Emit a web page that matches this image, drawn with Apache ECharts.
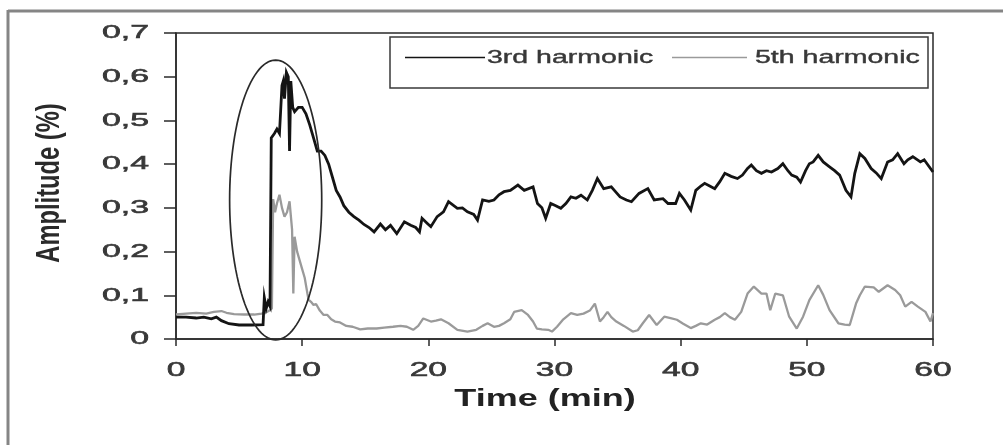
<!DOCTYPE html>
<html>
<head>
<meta charset="utf-8">
<script src="https://cdn.jsdelivr.net/npm/echarts@6/dist/echarts.min.js"></script>
<style>
  html, body { margin: 0; padding: 0; background: #ffffff; }
  #chart { width: 1003px; height: 445px; }
</style>
</head>
<body>
<div id="chart"></div>
<script>
// Harmonic amplitudes over time (minutes, % of fundamental)
const thirdTime = [0,0.8,1.6,2.2,2.8,3.2,3.6,4.2,5.0,6.0,6.9,7.0,7.15,7.3,7.45,7.55,7.8,8.0,8.2,8.4,8.5,8.6,8.75,8.9,9.0,9.1,9.25,9.4,9.7,10.0,10.3,10.6,10.9,11.2,11.5,11.8,12.1,12.4,12.7,13.0,13.3,13.7,14.1,14.5,14.9,15.3,15.7,16.2,16.6,17.0,17.5,18.1,18.6,19.0,19.3,19.5,19.9,20.2,20.7,21.2,21.6,22.3,22.7,23.1,23.6,23.9,24.3,24.8,25.2,25.6,26.0,26.5,27.1,27.6,28.3,28.65,29.0,29.3,29.7,30.1,30.5,30.9,31.3,31.7,32.1,32.6,33.0,33.4,33.9,34.5,34.9,35.2,35.7,36.1,36.7,37.4,37.9,38.6,39.0,39.6,39.9,40.3,40.8,41.2,41.6,41.9,42.3,42.7,43.1,43.5,44.0,44.5,44.9,45.3,45.6,46.0,46.4,46.8,47.2,47.7,48.1,48.5,48.8,49.2,49.5,49.9,50.2,50.5,50.9,51.3,51.8,52.2,52.6,53.1,53.5,53.8,54.2,54.6,55.1,55.5,55.9,56.4,56.8,57.2,57.7,58.0,58.4,59.0,59.3,59.6,60];
const thirdAmp = [0.050,0.050,0.048,0.050,0.046,0.050,0.042,0.035,0.032,0.032,0.033,0.095,0.070,0.085,0.075,0.460,0.470,0.480,0.470,0.580,0.590,0.550,0.610,0.600,0.430,0.590,0.530,0.520,0.530,0.530,0.515,0.490,0.460,0.430,0.430,0.420,0.400,0.370,0.340,0.325,0.305,0.290,0.280,0.272,0.262,0.255,0.245,0.263,0.250,0.260,0.241,0.268,0.260,0.255,0.245,0.276,0.265,0.257,0.280,0.291,0.314,0.299,0.300,0.291,0.285,0.272,0.318,0.315,0.318,0.330,0.337,0.340,0.352,0.340,0.348,0.310,0.300,0.276,0.310,0.305,0.299,0.310,0.325,0.322,0.329,0.318,0.340,0.367,0.344,0.348,0.335,0.325,0.318,0.314,0.333,0.344,0.318,0.321,0.310,0.310,0.333,0.318,0.295,0.340,0.350,0.356,0.350,0.344,0.360,0.379,0.372,0.367,0.375,0.390,0.398,0.385,0.379,0.385,0.382,0.390,0.401,0.385,0.375,0.370,0.359,0.385,0.401,0.405,0.420,0.405,0.394,0.385,0.375,0.340,0.325,0.379,0.424,0.413,0.390,0.380,0.367,0.405,0.410,0.424,0.401,0.410,0.417,0.405,0.410,0.398,0.382];

const fifthTime = [0,0.8,1.6,2.4,3.0,3.6,4.0,4.6,5.4,6.2,6.8,7.2,7.4,7.6,7.7,7.85,8.0,8.2,8.4,8.6,8.8,9.0,9.2,9.3,9.4,9.6,9.8,10.0,10.2,10.5,10.7,10.9,11.1,11.4,11.7,12.0,12.3,12.6,13.0,13.5,14.0,14.6,15.2,15.9,16.5,17.2,17.8,18.3,18.8,19.2,19.6,20.2,20.6,21.0,21.6,22.3,23.1,23.8,24.3,24.7,25.2,25.6,26.0,26.5,26.8,27.4,27.9,28.3,28.6,29.0,29.5,29.8,30.2,30.7,31.3,31.8,32.3,32.8,33.2,33.6,33.9,34.2,34.5,34.9,35.5,36.2,36.6,37.0,37.5,38.1,38.7,39.2,39.7,40.2,40.8,41.2,41.6,42.1,42.7,43.1,43.5,43.9,44.3,44.8,45.3,45.8,46.4,46.8,47.1,47.5,48.1,48.6,49.2,49.7,50.2,50.9,51.3,51.8,52.5,53.0,53.4,53.9,54.2,54.6,55.3,55.7,56.4,57.0,57.4,57.8,58.3,58.8,59.4,59.8,60];
const fifthAmp = [0.056,0.058,0.060,0.058,0.062,0.064,0.060,0.057,0.056,0.056,0.058,0.062,0.065,0.070,0.320,0.290,0.310,0.330,0.300,0.280,0.290,0.315,0.250,0.104,0.234,0.200,0.180,0.160,0.140,0.090,0.085,0.078,0.080,0.065,0.055,0.055,0.045,0.040,0.038,0.030,0.028,0.022,0.024,0.024,0.026,0.028,0.030,0.028,0.021,0.030,0.047,0.040,0.042,0.045,0.036,0.021,0.017,0.021,0.030,0.036,0.028,0.030,0.036,0.045,0.062,0.066,0.055,0.040,0.024,0.022,0.021,0.017,0.028,0.045,0.059,0.055,0.058,0.065,0.081,0.040,0.050,0.062,0.050,0.040,0.030,0.017,0.020,0.036,0.055,0.032,0.051,0.048,0.044,0.035,0.025,0.030,0.036,0.033,0.044,0.050,0.059,0.050,0.044,0.062,0.104,0.120,0.104,0.104,0.066,0.104,0.100,0.051,0.024,0.051,0.089,0.123,0.101,0.066,0.036,0.033,0.032,0.081,0.100,0.120,0.118,0.108,0.123,0.112,0.100,0.074,0.085,0.074,0.062,0.040,0.059];

// Axis ticks and their printed labels (decimal comma)
const xTickValues = [0, 10, 20, 30, 40, 50, 60];
const xTickLabels = ['0', '10', '20', '30', '40', '50', '60'];
const yTickValues = [0, 0.1, 0.2, 0.3, 0.4, 0.5, 0.6, 0.7];
const yTickLabels = ['0', '0,1', '0,2', '0,3', '0,4', '0,5', '0,6', '0,7'];

// Highlighted transient region: centre time, centre amplitude, half-width, half-height
const highlightRegion = [[7.9, 0.318, 3.65, 0.32]];

const seriesNames = ['3rd harmonic', '5th harmonic'];
const axisTitles = { x: 'Time (min)', y: 'Amplitude (%)' };

const zip = (xs, ys) => xs.map((x, i) => [x, ys[i]]);

const FONT = '"Liberation Sans", Arial, sans-serif';
const INK = '#2a2a2a';
const LABEL = '#383838';
const BLACK_LINE = '#141414';
const GREY_LINE = '#9a9a9a';

const chart = echarts.init(document.getElementById('chart'), null, { renderer: 'canvas' });

// Wide-set text element (the figure's lettering is horizontally expanded)
function textEl(text, x, y, opts) {
  return Object.assign({
    type: 'text',
    x: x, y: y,
    silent: true,
    style: {
      text: text,
      fill: opts.color || LABEL,
      stroke: opts.color || LABEL,
      lineWidth: opts.thicken || 0,
      font: (opts.weight || 'normal') + ' ' + opts.size + 'px ' + FONT,
      align: opts.align || 'center',
      verticalAlign: 'middle',
      textAlign: opts.align || 'center',
      textVerticalAlign: 'middle'
    }
  }, opts.transform || {});
}

const option = {
  backgroundColor: '#ffffff',
  animation: false,
  grid: {
    left: 176, right: 70, top: 33, bottom: 106,
    show: true, borderColor: INK, borderWidth: 1.5, backgroundColor: 'transparent'
  },
  xAxis: {
    type: 'value', min: 0, max: 60, interval: 10,
    axisLine: { show: true, lineStyle: { color: INK, width: 1.5 } },
    axisTick: { show: true, inside: false, length: 7, lineStyle: { color: INK, width: 1.5 } },
    axisLabel: { show: false },
    splitLine: { show: false }
  },
  yAxis: {
    type: 'value', min: 0, max: 0.7, interval: 0.1,
    axisLine: { show: true, lineStyle: { color: INK, width: 1.5 } },
    axisTick: { show: true, inside: false, length: 12, lineStyle: { color: INK, width: 1.5 } },
    axisLabel: { show: false },
    splitLine: { show: false }
  },
  series: [
    {
      name: seriesNames[0], type: 'line', data: zip(thirdTime, thirdAmp),
      showSymbol: false, symbol: 'none', z: 3,
      lineStyle: { color: BLACK_LINE, width: 2.8, join: 'miter' }
    },
    {
      name: seriesNames[1], type: 'line', data: zip(fifthTime, fifthAmp),
      showSymbol: false, symbol: 'none', z: 2,
      lineStyle: { color: GREY_LINE, width: 2.3 }
    },
    {
      // outline around the transient
      type: 'custom', data: highlightRegion, encode: { x: 0, y: 1 }, z: 4, silent: true,
      renderItem: function (params, api) {
        const c = api.coord([api.value(0), api.value(1)]);
        const s = api.size([api.value(2), api.value(3)]);
        const pts = [];
        for (let k = 0; k < 120; k++) {
          const a = (k / 120) * Math.PI * 2;
          pts.push([c[0] + s[0] * Math.cos(a), c[1] + s[1] * Math.sin(a)]);
        }
        return { type: 'polygon', shape: { points: pts }, style: { fill: 'none', stroke: INK, lineWidth: 1.7 } };
      }
    },
    {
      // x tick labels
      type: 'custom', data: xTickValues.map(v => [v, 0]), encode: { x: 0, y: 1 }, silent: true,
      renderItem: function (params, api) {
        const p = api.coord([api.value(0), api.value(1)]);
        return textEl(xTickLabels[params.dataIndex], p[0], p[1] + 31,
          { size: 21, align: 'center', thicken: 0.6, transform: { scaleX: 1.6 } });
      }
    },
    {
      // y tick labels
      type: 'custom', data: yTickValues.map(v => [0, v]), encode: { x: 0, y: 1 }, silent: true,
      renderItem: function (params, api) {
        const p = api.coord([api.value(0), api.value(1)]);
        return textEl(yTickLabels[params.dataIndex], p[0] - 27, p[1],
          { size: 19, align: 'right', thicken: 0.6, transform: { scaleX: 1.78 } });
      }
    }
  ],
  graphic: [
    // outer frame
    { type: 'line', silent: true, shape: { x1: 8, y1: 11, x2: 1003, y2: 11 }, style: { stroke: '#858585', lineWidth: 3 } },
    { type: 'line', silent: true, shape: { x1: 8, y1: 10, x2: 8, y2: 445 }, style: { stroke: '#858585', lineWidth: 3 } },
    // legend
    { type: 'rect', silent: true, z: 10, shape: { x: 390, y: 37, width: 538, height: 51 },
      style: { fill: '#ffffff', stroke: '#3a3a3a', lineWidth: 1.5 } },
    { type: 'line', silent: true, z: 11, shape: { x1: 405, y1: 57.5, x2: 485, y2: 57.5 }, style: { stroke: BLACK_LINE, lineWidth: 1.5 } },
    Object.assign(textEl(seriesNames[0], 487, 58, { size: 19, align: 'left', thicken: 0.4, transform: { scaleX: 1.5 } }), { z: 11 }),
    { type: 'line', silent: true, z: 11, shape: { x1: 672, y1: 57.5, x2: 747, y2: 57.5 }, style: { stroke: GREY_LINE, lineWidth: 1.5 } },
    Object.assign(textEl(seriesNames[1], 755, 58, { size: 19, align: 'left', thicken: 0.4, transform: { scaleX: 1.5 } }), { z: 11 }),
    // axis titles
    textEl(axisTitles.x, 545, 399, { size: 24, weight: 'bold', color: '#222', transform: { scaleX: 1.5 } }),
    textEl(axisTitles.y, 50, 183, { size: 21, weight: 'bold', color: '#2a2a2a', transform: { rotation: Math.PI / 2, scaleX: 1.13, scaleY: 1.6 } })
  ]
};

chart.setOption(option);
</script>
</body>
</html>
